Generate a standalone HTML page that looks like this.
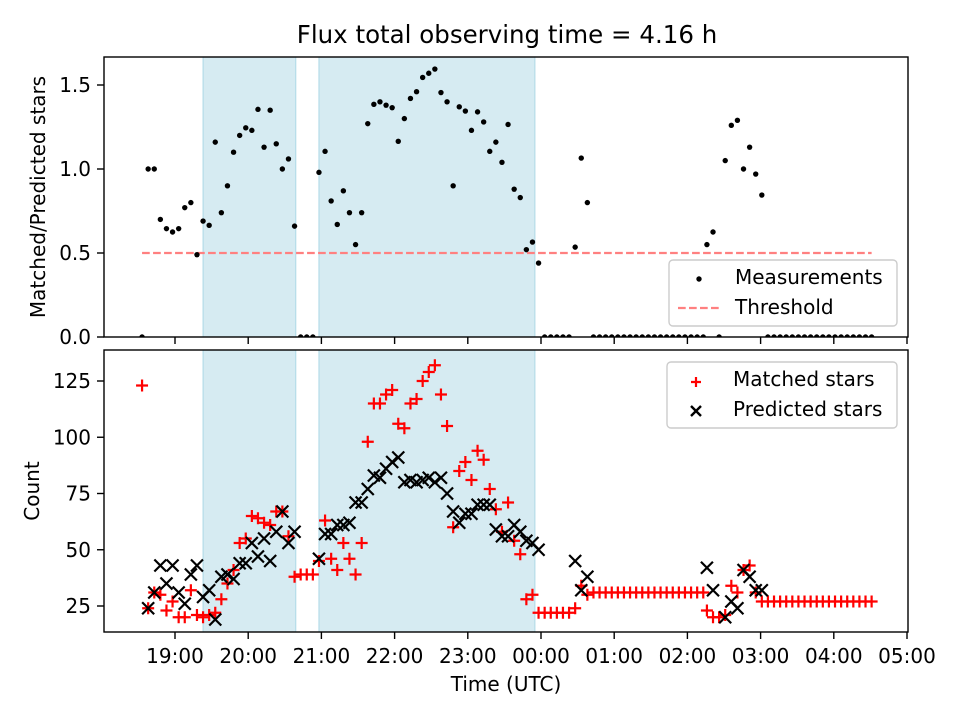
<!DOCTYPE html>
<html><head><meta charset="utf-8"><style>
html,body{margin:0;padding:0;background:#fff;}
svg{display:block;font-family:"DejaVu Sans","Liberation Sans",sans-serif;}
</style></head><body>
<svg id="fig" width="960" height="720" viewBox="0 0 960 720">
<defs>
<clipPath id="clipTop"><rect x="104" y="57" width="804" height="280"/></clipPath>
<clipPath id="clipBot"><rect x="104" y="350" width="804" height="282"/></clipPath>
</defs>
<rect width="960" height="720" fill="#fff"/>
<text x="507" y="43" text-anchor="middle" font-size="24.5">Flux total observing time = 4.16 h</text>
<g id="topPanel"></g>
<g id="botPanel"></g>
<text x="0" y="0" transform="translate(45,197) rotate(-90)" text-anchor="middle" font-size="20">Matched/Predicted stars</text>
<text x="0" y="0" transform="translate(39,491) rotate(-90)" text-anchor="middle" font-size="20">Count</text>
<text x="506" y="691" text-anchor="middle" font-size="20">Time (UTC)</text>
</svg>
<script>
// minutes since 18:00
const times = [33,38,43,48,53,58,63,68,73,78,83,88,93,98,103,108,113,118,123,128,133,138,143,148,153,158,163,168,173,178,183,188,193,198,203,208,213,218,223,228,233,238,243,248,253,258,263,268,273,278,283,288,293,298,303,308,313,318,323,328,333,338,343,348,353,358,363,368,373,378,383,388,393,398,403,408,413,418,423,428,433,438,443,448,453,458,463,468,473,478,483,488,493,496,501,506,511,516,521,526,531,536,541,546,551,556,561,566,571,576,581,586,591,596,601,606,611,616,621,626,631];
const ratios = [0,1.0,1.0,0.70,0.645,0.625,0.645,0.77,0.80,0.49,
0.69,0.665,1.16,0.74,0.90,1.10,1.20,1.245,1.23,1.355,
1.13,1.35,1.15,1.0,1.06,0.66,0,0,0,0.98,
1.105,0.81,0.67,0.87,0.74,0.55,0.74,1.27,1.385,1.40,
1.38,1.365,1.165,1.30,1.42,1.46,1.545,1.57,1.595,1.455,
1.40,0.90,1.37,1.345,1.23,1.34,1.28,1.105,1.16,1.04,
1.265,0.88,0.83,0.52,0.565,0.44,0,0,0,0,
0,0.535,1.065,0.80,0,0,0,0,0,0,
0,0,0,0,0,0,0,0,0,0,
0,0,0,0.55,0.625,0,1.05,1.26,1.29,1.0,
1.13,0.97,0.845,0,0,0,0,0,0,0,
0,0,0,0,0,0,0,0,0,0,0];
const matched = [123,24,31,30,23,27,20,20,32,21,
20,21,22,28,35,41,53,55,65,64,
62,61,67,67,56,38,39,39,39,45,
63,46,41,53,46,39,53,98,115,115,
119,121,106,104,115,117,125,129,132,119,
105,60,85,89,81,94,90,77,68,58,
71,54,48,28,30,22,22,22,22,22,
22,24,34,30,31,31,31,31,31,31,
31,31,31,31,31,31,31,31,31,31,
31,31,31,23,20,20,21,34,31,41,
43,31,27,27,27,27,27,27,27,27,
27,27,27,27,27,27,27,27,27,27,27];
const predicted = [0,24,31,43,35,43,31,26,39,43,
29,32,19,38,39,37,44,44,53,47,
55,45,58,67,53,58,0,0,0,46,
57,57,61,61,62,71,71,77,83,82,
86,89,91,80,81,80,81,82,80,82,
75,67,62,66,66,70,70,70,59,56,
56,61,58,54,53,50,0,0,0,0,
0,45,32,38,0,0,0,0,0,0,
0,0,0,0,0,0,0,0,0,0,
0,0,0,42,32,0,20,27,24,41,
38,32,32,0,0,0,0,0,0,0,
0,0,0,0,0,0,0,0,0,0,0];
const spans = [[83,159],[178,355]];
const threshold = 0.5;
const xTickMinutes = [60,120,180,240,300,360,420,480,540,600,660];
const xTickLabels = ["19:00","20:00","21:00","22:00","23:00","00:00","01:00","02:00","03:00","04:00","05:00"];
const topTicks = [0,0.5,1.0,1.5];
const topTickLabels = ["0.0","0.5","1.0","1.5"];
const botTicks = [25,50,75,100,125];

const NS="http://www.w3.org/2000/svg";
const X = m => 175 + (m-60)*73.2/60;
const YT = v => 337 - v*168;
const YB = v => 606 - (v-25)*2.25;
function mk(tag, attrs, parent){const e=document.createElementNS(NS,tag);for(const k in attrs)e.setAttribute(k,attrs[k]);parent.appendChild(e);return e;}
const topG=document.getElementById('topPanel'), botG=document.getElementById('botPanel');

function panel(g, y0, y1, clip){
  spans.forEach((s,i)=>{
    const r=mk('rect',{x:X(s[0]),y:y0,width:X(s[1])-X(s[0]),height:y1-y0,fill:'#add8e6','fill-opacity':0.5,stroke:'#add8e6','stroke-width':1,'clip-path':clip},g);
    
    
  });
}
panel(topG,57,337,'url(#clipTop)');
panel(botG,350,632,'url(#clipBot)');

const th=mk('line',{x1:X(times[0]),x2:X(times[times.length-1]),y1:YT(threshold),y2:YT(threshold),stroke:'#ff8080','stroke-width':2.2,'stroke-dasharray':'7.7,3.3'},topG);



times.forEach((t,i)=>{
  const c=mk('circle',{cx:X(t),cy:YT(ratios[i]),r:2.7,fill:'#000','clip-path':'url(#clipTop)'},topG);
  
  
});

times.forEach((t,i)=>{
  const x=X(t), y=YB(matched[i]);
  const p=mk('path',{d:`M${x-6} ${y}H${x+6}M${x} ${y-6}V${y+6}`,stroke:'#ff0000','stroke-width':2.2,fill:'none','clip-path':'url(#clipBot)'},botG);
  
  
});
times.forEach((t,i)=>{
  const x=X(t), y=YB(predicted[i]);
  const p=mk('path',{d:`M${x-6} ${y-6}L${x+6} ${y+6}M${x-6} ${y+6}L${x+6} ${y-6}`,stroke:'#000','stroke-width':2.2,fill:'none','clip-path':'url(#clipBot)'},botG);
  
  
});

[[topG,57,337],[botG,350,632]].forEach(([g,a,b])=>{
  const f=mk('rect',{x:104,y:a,width:804,height:b-a,fill:'none',stroke:'#000','stroke-width':1.4},g);
  
  
  xTickMinutes.forEach(m=>{
    const tk=mk('line',{x1:X(m),x2:X(m),y1:b,y2:b+7,stroke:'#000','stroke-width':1.4},g);
    
    
  });
});
xTickMinutes.forEach((m,i)=>{
  const tx=mk('text',{x:X(m),y:663,'text-anchor':'middle','font-size':20},botG);
  tx.textContent=xTickLabels[i];
  
  
});
topTicks.forEach((v,i)=>{
  const tk=mk('line',{x1:97,x2:104,y1:YT(v),y2:YT(v),stroke:'#000','stroke-width':1.4},topG);
  
  
  const tx=mk('text',{x:91,y:YT(v)+7,'text-anchor':'end','font-size':20},topG);
  tx.textContent=topTickLabels[i];
  
  
});
botTicks.forEach(v=>{
  const tk=mk('line',{x1:97,x2:104,y1:YB(v),y2:YB(v),stroke:'#000','stroke-width':1.4},botG);
  
  
  const tx=mk('text',{x:91,y:YB(v)+7,'text-anchor':'end','font-size':20},botG);
  tx.textContent=String(v);
  
  
});

const l1=mk('g',{},topG);


mk('rect',{x:669,y:260,width:228,height:66,rx:4,fill:'#fff','fill-opacity':0.85,stroke:'#ccc','stroke-width':1.4},l1);
mk('circle',{cx:699,cy:279,r:2.7,fill:'#000'},l1);
const lt1=mk('text',{x:735,y:284,'font-size':20},l1); lt1.textContent='Measurements';


mk('line',{x1:678,x2:719,y1:308,y2:308,stroke:'#ff8080','stroke-width':2.2,'stroke-dasharray':'7.7,3.3'},l1);
const lt2=mk('text',{x:735,y:314,'font-size':20},l1); lt2.textContent='Threshold';



const l2=mk('g',{},botG);


mk('rect',{x:667,y:362,width:230,height:66,rx:4,fill:'#fff','fill-opacity':0.85,stroke:'#ccc','stroke-width':1.4},l2);
mk('path',{d:'M691 382H701M696 377V387',stroke:'#ff0000','stroke-width':2.2,fill:'none'},l2);
const lt3=mk('text',{x:733,y:386,'font-size':20},l2); lt3.textContent='Matched stars';


mk('path',{d:'M691 406L701 416M691 416L701 406',stroke:'#000','stroke-width':2.4,fill:'none'},l2);
const lt4=mk('text',{x:733,y:416,'font-size':20},l2); lt4.textContent='Predicted stars';


</script>
</body></html>
